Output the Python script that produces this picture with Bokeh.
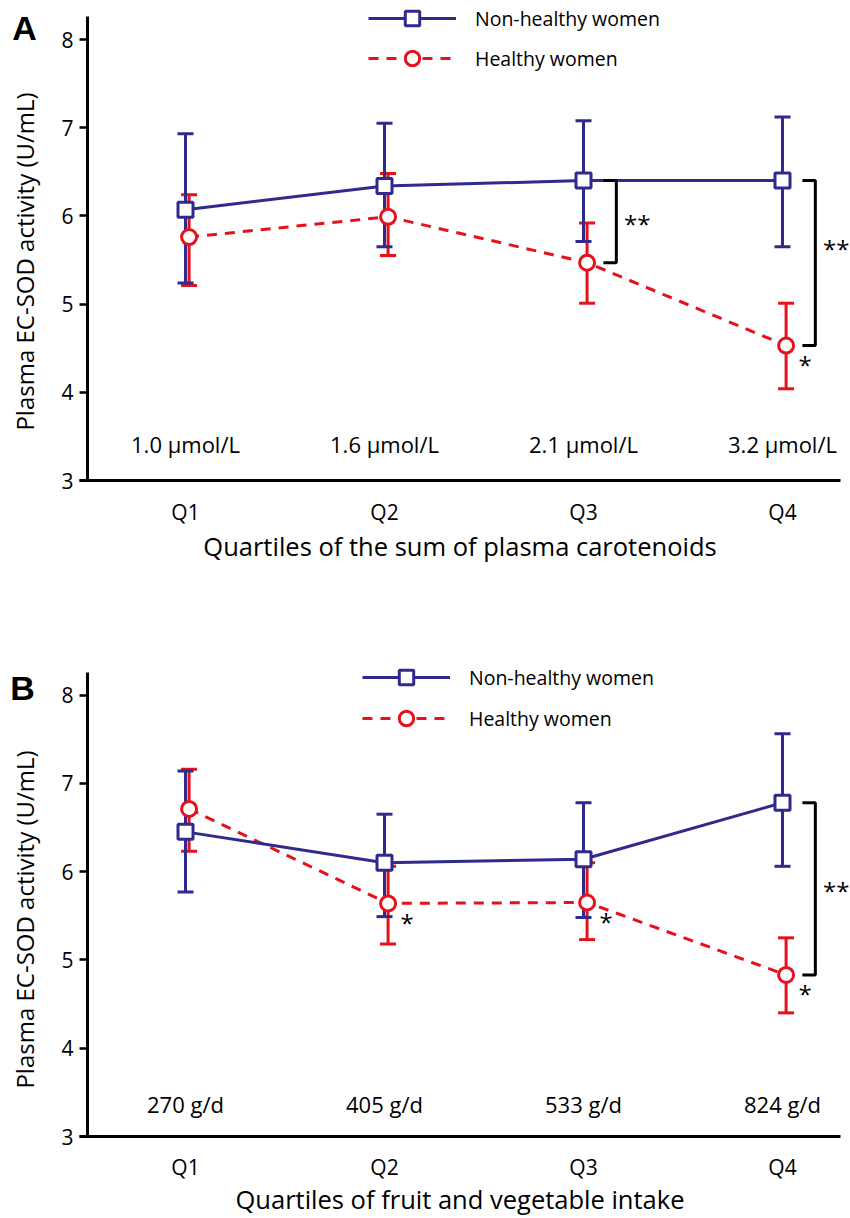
import math
from bokeh.plotting import figure
from bokeh.models import (Range1d, FixedTicker, Whisker, TeeHead, ColumnDataSource,
                          Legend, LegendItem, Label)
from bokeh.layouts import column
from bokeh.embed import file_html
from bokeh.resources import INLINE
from bokeh.core.properties import value

# ---------------- data ----------------
quartiles = ["Q1", "Q2", "Q3", "Q4"]
qpos = [1, 2, 3, 4]

a_levels = ["1.0 μmol/L", "1.6 μmol/L", "2.1 μmol/L", "3.2 μmol/L"]
a_nonhealthy = [6.07, 6.34, 6.40, 6.40]
a_nonhealthy_upper = [6.93, 7.05, 7.08, 7.12]
a_nonhealthy_lower = [5.24, 5.65, 5.71, 5.65]
a_healthy = [5.76, 5.99, 5.47, 4.53]
a_healthy_upper = [6.24, 6.48, 5.92, 5.01]
a_healthy_lower = [5.21, 5.55, 5.01, 4.04]
a_bracket_q = [3, 4]          # quartiles with ** between groups
a_star_q = [4]                # quartiles with * (healthy women)

b_levels = ["270 g/d", "405 g/d", "533 g/d", "824 g/d"]
b_nonhealthy = [6.45, 6.10, 6.14, 6.78]
b_nonhealthy_upper = [7.14, 6.65, 6.78, 7.56]
b_nonhealthy_lower = [5.77, 5.49, 5.48, 6.06]
b_healthy = [6.71, 5.64, 5.65, 4.83]
b_healthy_upper = [7.16, 6.06, 6.10, 5.25]
b_healthy_lower = [6.23, 5.18, 5.23, 4.40]
b_bracket_q = [4]
b_star_q = [2, 3, 4]

y_ticks = [3, 4, 5, 6, 7, 8]
ylabel = "Plasma EC-SOD activity (U/mL)"

BLUE = "#2f2a8c"
RED = "#e5121c"
FONT = "Open Sans"
W, H = 850, 609


def xd(px):
    return 1 + (px - 185) / 199.0


def make_panel(letter, xlabel, levels, nh, nh_u, nh_l, h, h_u, h_l,
               bracket_q, bracket_txt_dy, star_q, bottom_px, unit_px,
               legend_xy, legend_spacing, ylabel_cy, letter_xy, level_py,
               tick_standoff, title_standoff):
    def yd(py):
        return 3 + (bottom_px - py) / unit_px

    p = figure(width=W, height=H, output_backend="svg", toolbar_location=None,
               x_range=Range1d(xd(0), xd(W)),
               y_range=Range1d(yd(H), yd(0)),
               min_border_left=0, min_border_right=0, min_border_top=0,
               min_border_bottom=0)
    p.outline_line_color = None
    p.grid.visible = False
    p.background_fill_color = "white"
    p.border_fill_color = "white"

    # axes (fixed inside the plot area)
    xa = p.xaxis[0]
    xa.fixed_location = 3
    xa.ticker = FixedTicker(ticks=qpos)
    xa.major_label_overrides = {q: lab for q, lab in zip(qpos, quartiles)}
    xa.major_tick_line_color = None
    xa.minor_tick_line_color = None
    xa.axis_line_width = 3
    xa.axis_line_color = "black"
    xa.bounds = (xd(79), xd(840))
    xa.major_label_text_font = FONT
    xa.major_label_text_font_size = "21px"
    xa.major_label_text_color = "black"
    xa.major_label_standoff = tick_standoff
    xa.axis_label = xlabel
    xa.axis_label_text_font = FONT
    xa.axis_label_text_font_size = "25.5px"
    xa.axis_label_text_font_style = "normal"
    xa.axis_label_text_color = "black"
    xa.axis_label_standoff = title_standoff

    ya = p.yaxis[0]
    ya.fixed_location = xd(87)
    ya.bounds = (3, 8.26)
    ya.ticker = FixedTicker(ticks=y_ticks)
    ya.major_tick_out = 8
    ya.major_tick_in = 0
    ya.major_tick_line_width = 2.5
    ya.minor_tick_line_color = None
    ya.axis_line_width = 3
    ya.major_label_text_font = FONT
    ya.major_label_text_font_size = "21px"
    ya.major_label_text_color = "black"
    ya.major_label_standoff = 6

    off = 0.018
    hx = [q + off for q in qpos]

    src_nh = ColumnDataSource(dict(x=qpos, y=nh, upper=nh_u, lower=nh_l))
    src_h = ColumnDataSource(dict(x=hx, y=h, upper=h_u, lower=h_l))

    for src, col in ((src_h, RED), (src_nh, BLUE)):
        wk = Whisker(source=src, base="x", upper="upper", lower="lower",
                     dimension="height", line_color=col, line_width=3,
                     level="underlay",
                     upper_head=TeeHead(size=16, line_color=col, line_width=3),
                     lower_head=TeeHead(size=16, line_color=col, line_width=3))
        p.add_layout(wk)

    l_h = p.line("x", "y", source=src_h, line_color=RED, line_width=3,
                 line_dash="10 8")
    l_nh = p.line("x", "y", source=src_nh, line_color=BLUE, line_width=3)
    m_h = p.scatter("x", "y", source=src_h, marker="circle", size=15,
                    line_color=RED, line_width=3, fill_color="white")
    m_nh = p.scatter("x", "y", source=src_nh, marker="square", size=15,
                     line_color=BLUE, line_width=3, fill_color="white")

    # brackets for between-group difference
    bxs, bys, tx, ty = [], [], [], []
    for q, dy in zip(bracket_q, bracket_txt_dy):
        i = qpos.index(q)
        top, bot = nh[i], h[i]
        x0, x1 = q + 0.10, q + 0.165
        bxs.append([x0, x1, x1, x0])
        bys.append([top, top, bot, bot])
        tx.append(q + 0.27)
        ty.append((top + bot) / 2 + dy - 2 / unit_px)
    p.multi_line(bxs, bys, line_color="black", line_width=3)
    p.text(x=tx, y=ty, text=["**"] * len(tx), text_font=value(FONT),
           text_font_size="24px", text_align="center", text_baseline="middle",
           text_color="black")

    sx = [q + off + 0.095 for q in star_q]
    sy = [h[qpos.index(q)] - 19 / unit_px for q in star_q]
    p.text(x=sx, y=sy, text=["*"] * len(sx), text_font=value(FONT),
           text_font_size="24px", text_align="center", text_baseline="middle",
           text_color="black")

    # quartile level labels
    p.text(x=qpos, y=[yd(level_py)] * 4, text=levels, text_font=value(FONT),
           text_font_size="22px", text_align="center", text_baseline="middle",
           text_color="black")

    # y label & panel letter
    p.add_layout(Label(x=xd(24), y=yd(ylabel_cy), text=ylabel, angle=math.pi / 2,
                       text_align="center", text_baseline="middle",
                       text_font=FONT, text_font_size="24px", text_color="black"))
    p.add_layout(Label(x=xd(letter_xy[0]), y=yd(letter_xy[1]), text=letter,
                       text_align="center", text_baseline="middle",
                       text_font="Liberation Sans", text_font_style="bold",
                       text_font_size="34px", text_color="black"))

    leg = Legend(items=[LegendItem(label="Non-healthy women", renderers=[l_nh, m_nh]),
                        LegendItem(label="Healthy women", renderers=[l_h, m_h])],
                 location=legend_xy, glyph_width=88, glyph_height=36,
                 label_height=20, spacing=legend_spacing, padding=0, margin=0,
                 label_standoff=19, border_line_color=None,
                 background_fill_alpha=0, label_text_font=FONT,
                 label_text_font_size="19.5px", label_text_color="black")
    p.add_layout(leg)
    return p


pA = make_panel("A", "Quartiles of the sum of plasma carotenoids", a_levels,
                a_nonhealthy, a_nonhealthy_upper, a_nonhealthy_lower,
                a_healthy, a_healthy_upper, a_healthy_lower,
                a_bracket_q, [0.0, 0.19], a_star_q,
                bottom_px=480, unit_px=88.2, legend_xy=(368, 533), legend_spacing=4,
                ylabel_cy=261, letter_xy=(24, 27), level_py=443,
                tick_standoff=11, title_standoff=0)

pB = make_panel("B", "Quartiles of fruit and vegetable intake", b_levels,
                b_nonhealthy, b_nonhealthy_upper, b_nonhealthy_lower,
                b_healthy, b_healthy_upper, b_healthy_lower,
                b_bracket_q, [0.0], b_star_q,
                bottom_px=527, unit_px=88.3, legend_xy=(362, 482), legend_spacing=5,
                ylabel_cy=310, letter_xy=(22, 78), level_py=494,
                tick_standoff=10, title_standoff=-2)

layout = column(pA, pB, spacing=0)
open("out.html", "w").write(file_html(layout, INLINE))
